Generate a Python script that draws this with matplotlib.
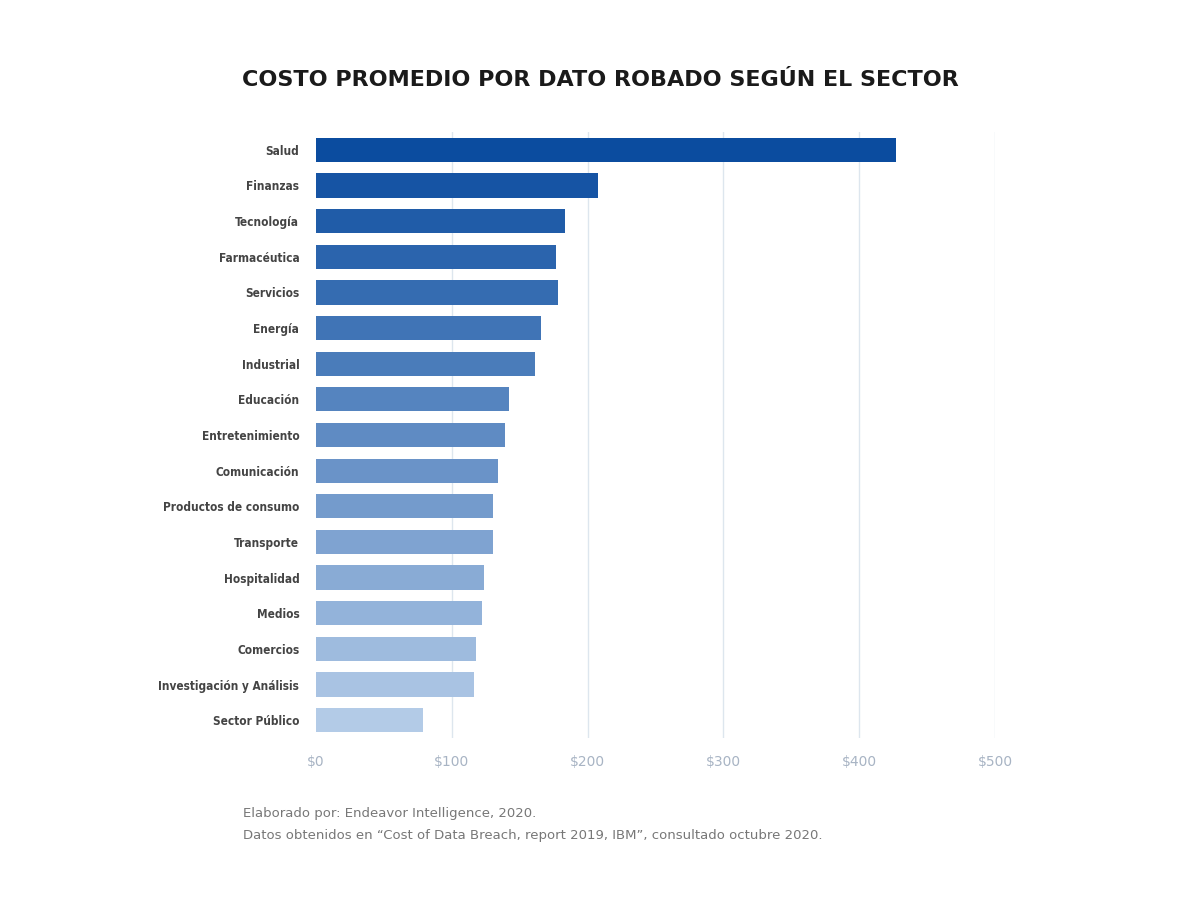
import matplotlib
matplotlib.use("Agg")
import matplotlib.pyplot as plt
import numpy as np
from matplotlib.colors import to_rgb

categories = ["Salud","Finanzas","Tecnología","Farmacéutica","Servicios","Energía","Industrial",
              "Educación","Entretenimiento","Comunicación","Productos de consumo","Transporte",
              "Hospitalidad","Medios","Comercios","Investigación y Análisis","Sector Público"]
values = [427,208,183,177,178,166,161,142,139,134,130,130,124,122,118,116,79]
tick_values = [0,100,200,300,400,500]
tick_labels = ["$0","$100","$200","$300","$400","$500"]

fig = plt.figure(figsize=(12,9), dpi=100)
ax = fig.add_axes([316/1200, 1-738/900, (995-316)/1200, (738-132)/900])
n = len(categories)
c0 = np.array(to_rgb("#0b4c9f")); c1 = np.array(to_rgb("#b3cbe7"))
colors = [tuple(c0 + (c1-c0)*i/(n-1)) for i in range(n)]
y = np.arange(n)
ax.barh(y, values, height=0.68, color=colors, zorder=2)
ax.set_ylim(n-0.5+0.0, -0.5-0.0)
ax.set_xlim(0,500)
ax.set_yticks(y)
ax.set_yticklabels(categories, fontsize=8.5, fontweight="bold", color="#444444", fontstretch="condensed")
ax.set_xticks(tick_values)
ax.set_xticklabels(tick_labels, fontsize=10, color="#a8b4c4")
for t in tick_values[1:]:
    ax.axvline(t, color="#dde6ee", lw=1, zorder=1)
for s in ax.spines.values():
    s.set_visible(False)
ax.tick_params(length=0, pad=12)
fig.text(0.5, 1-80/900, "COSTO PROMEDIO POR DATO ROBADO SEGÚN EL SECTOR", ha="center", va="center",
         fontsize=16, fontweight="bold", color="#1a1a1a")
fig.text(243/1200, 1-814/900, "Elaborado por: Endeavor Intelligence, 2020.", fontsize=9.5, color="#777777", va="center")
fig.text(243/1200, 1-836/900, "Datos obtenidos en “Cost of Data Breach, report 2019, IBM”, consultado octubre 2020.",
         fontsize=9.5, color="#777777", va="center")
fig.savefig("out.png")
